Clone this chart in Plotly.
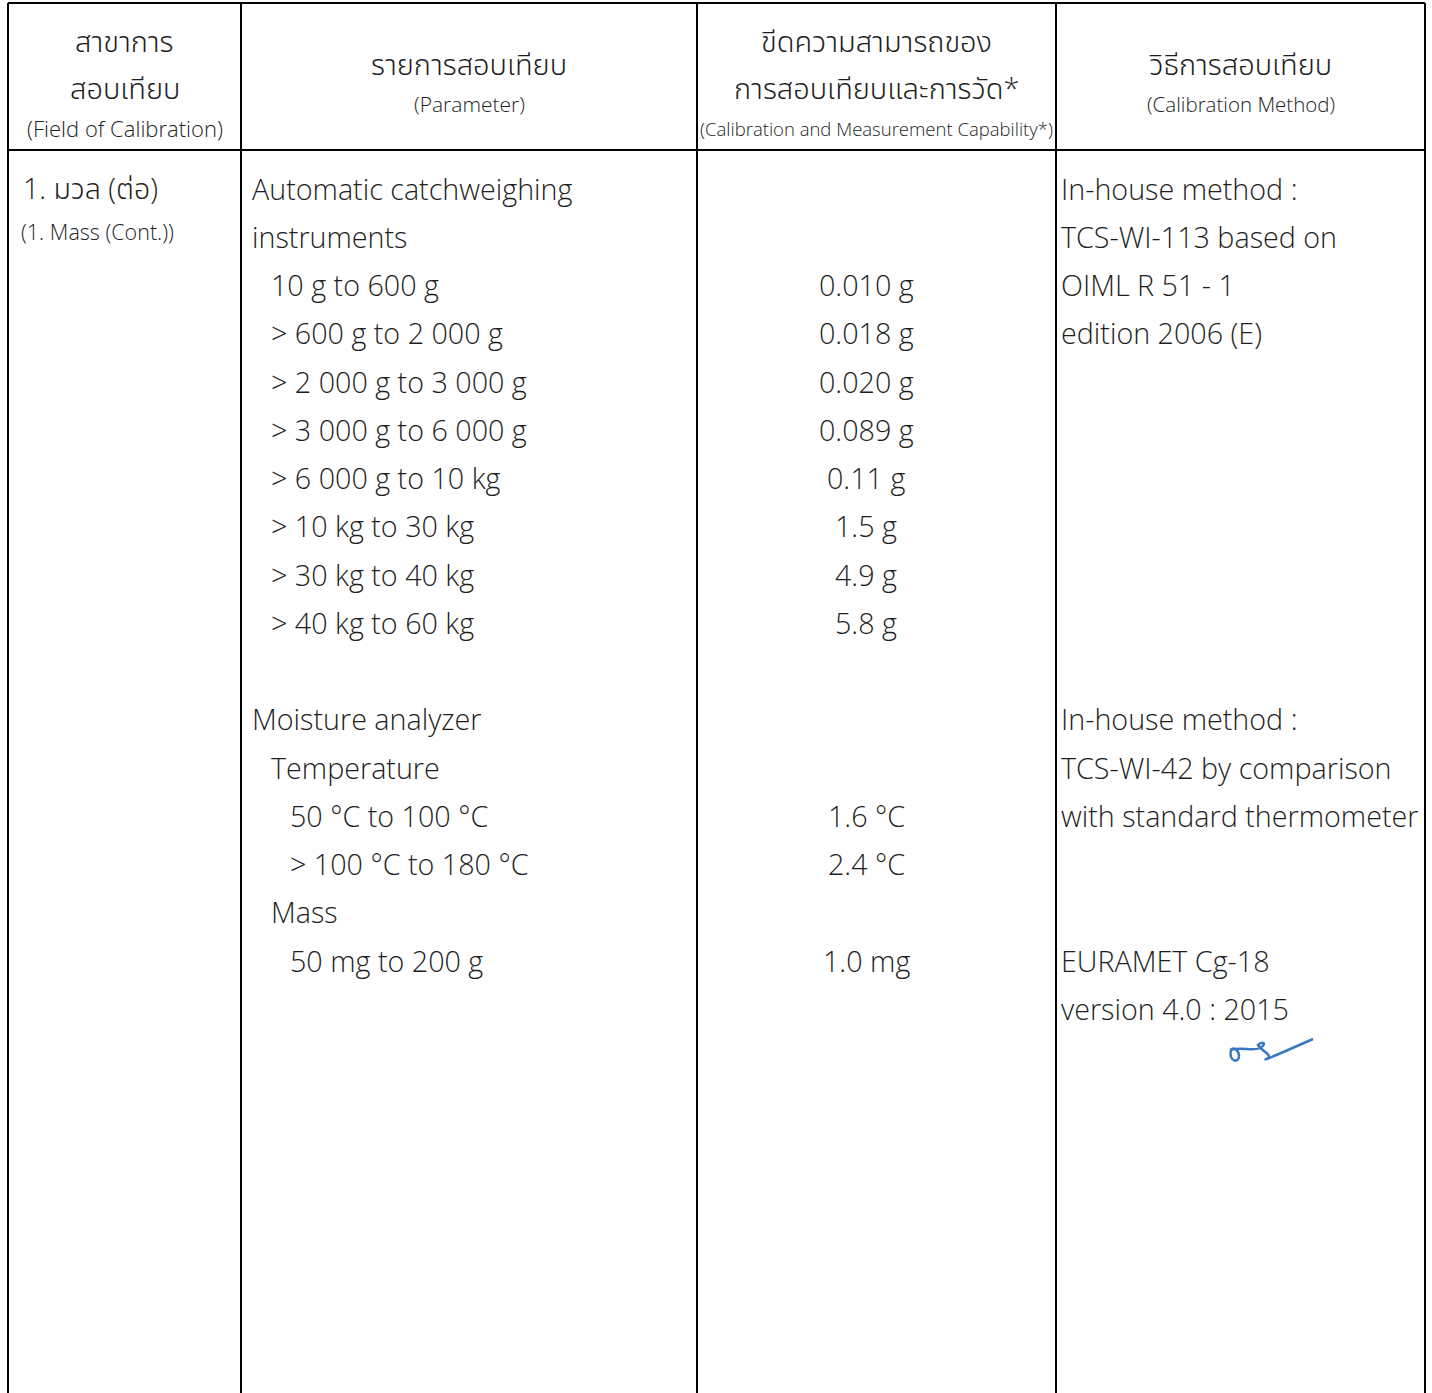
import plotly.graph_objects as go

W, H = 1432, 1393

# ---------------- data ----------------
header_thai = [["สาขาการ", "สอบเทียบ"], ["รายการสอบเทียบ"],
               ["ขีดความสามารถของ", "การสอบเทียบและการวัด*"], ["วิธีการสอบเทียบ"]]
header_eng = ["(Field of Calibration)", "(Parameter)",
              "(Calibration and Measurement Capability*)", "(Calibration Method)"]

field_thai = "1. มวล (ต่อ)"
field_eng = "(1. Mass (Cont.))"

catch_title = ["Automatic catchweighing", "instruments"]
catch_ranges = ["10 g to 600 g", "> 600 g to 2 000 g", "> 2 000 g to 3 000 g",
                "> 3 000 g to 6 000 g", "> 6 000 g to 10 kg", "> 10 kg to 30 kg",
                "> 30 kg to 40 kg", "> 40 kg to 60 kg"]
catch_cmc = ["0.010 g", "0.018 g", "0.020 g", "0.089 g", "0.11 g", "1.5 g", "4.9 g", "5.8 g"]
catch_method = ["In-house method :", "TCS-WI-113 based on", "OIML R 51 - 1", "edition 2006 (E)"]

moist_title = "Moisture analyzer"
temp_title = "Temperature"
temp_ranges = ["50 °C to 100 °C", "> 100 °C to 180 °C"]
temp_cmc = ["1.6 °C", "2.4 °C"]
temp_method = ["In-house method :", "TCS-WI-42 by comparison", "with standard thermometer"]
mass_title = "Mass"
mass_ranges = ["50 mg to 200 g"]
mass_cmc = ["1.0 mg"]
mass_method = ["EURAMET Cg-18", "version 4.0 : 2015"]

# ---------------- layout ----------------
FONT = "Open Sans, Noto Sans, Noto Sans Thai, sans-serif"
col_x = [8, 241, 697, 1056, 1425]
top, head_bot = 3, 150
TXT = "#1e1e1e"

fig = go.Figure()
shapes = []
lw = 2
for x in col_x:
    shapes.append(dict(type="line", x0=x, x1=x, y0=top, y1=H + 20, line=dict(color="black", width=lw)))
shapes.append(dict(type="line", x0=col_x[0], x1=col_x[-1], y0=top, y1=top, line=dict(color="black", width=lw)))
shapes.append(dict(type="line", x0=col_x[0], x1=col_x[-1], y0=head_bot, y1=head_bot, line=dict(color="black", width=lw)))

# signature (decorative)
shapes.append(dict(type="path",
                   path="M 1230 1050 C 1242 1046, 1252 1052, 1260 1048 C 1268 1043, 1262 1041, 1258 1045 "
                        "C 1262 1051, 1272 1055, 1268 1058 C 1260 1062, 1270 1058, 1313 1039",
                   line=dict(color="#3a78c2", width=2.5)))
shapes.append(dict(type="path",
                   path="M 1231 1050 C 1228 1062, 1240 1064, 1239 1055 C 1238 1049, 1233 1047, 1231 1050",
                   line=dict(color="#3a78c2", width=2.5)))

ann = []
BODY = 28.7


def txt(x, y, s, size=BODY, anchor="left", color=TXT, family=FONT, weight=300):
    ann.append(dict(x=x, y=y, text=s, showarrow=False, xanchor=anchor, yanchor="middle",
                    font=dict(family=family, size=size, color=color, weight=weight)))


# header
centers = [(col_x[i] + col_x[i + 1]) / 2 for i in range(4)]
eng_sizes = [22, 21, 18.5, 20.5]
for i in range(4):
    c = centers[i]
    lines = header_thai[i]
    if len(lines) == 2:
        txt(c, 40, lines[0], 29, "center")
        txt(c, 87, lines[1], 29, "center")
        ys = 128
    else:
        txt(c, 63, lines[0], 29, "center")
        ys = 104
    txt(c if i != 2 else 876, ys, header_eng[i], eng_sizes[i], "center")

# body
row0, dy = 188, 48.25
xp0, xp1, xp2 = 250, 269, 288
xc = 866
xm = 1059

txt(21, row0, field_thai, 28.5)
txt(19, 231, field_eng, 21.5)

r = 0
for s in catch_title:
    txt(xp0, row0 + r * dy, s)
    r += 1
for k, s in enumerate(catch_method):
    txt(xm, row0 + k * dy, s)
for s, v in zip(catch_ranges, catch_cmc):
    txt(xp1, row0 + r * dy, s)
    txt(xc, row0 + r * dy, v, anchor="center")
    r += 1
r += 1
r_moist = r
txt(xp0, row0 + r * dy, moist_title)
for k, s in enumerate(temp_method):
    txt(xm, row0 + (r_moist + k) * dy, s)
r += 1
txt(xp1, row0 + r * dy, temp_title)
r += 1
for s, v in zip(temp_ranges, temp_cmc):
    txt(xp2, row0 + r * dy, s)
    txt(xc, row0 + r * dy, v, anchor="center")
    r += 1
txt(xp1, row0 + r * dy, mass_title)
r += 1
for k, s in enumerate(mass_method):
    txt(xm, row0 + (r + k) * dy, s)
for s, v in zip(mass_ranges, mass_cmc):
    txt(xp2, row0 + r * dy, s)
    txt(xc, row0 + r * dy, v, anchor="center")
    r += 1

fig.update_layout(
    width=W, height=H, margin=dict(l=0, r=0, t=0, b=0),
    paper_bgcolor="white", plot_bgcolor="white",
    xaxis=dict(range=[0, W], visible=False, fixedrange=True),
    yaxis=dict(range=[H, 0], visible=False, fixedrange=True),
    shapes=shapes, annotations=ann, showlegend=False,
)
fig.write_html("out.html", config={"displayModeBar": False},
               post_script="document.body.style.margin='0';document.body.style.overflow='hidden';")
